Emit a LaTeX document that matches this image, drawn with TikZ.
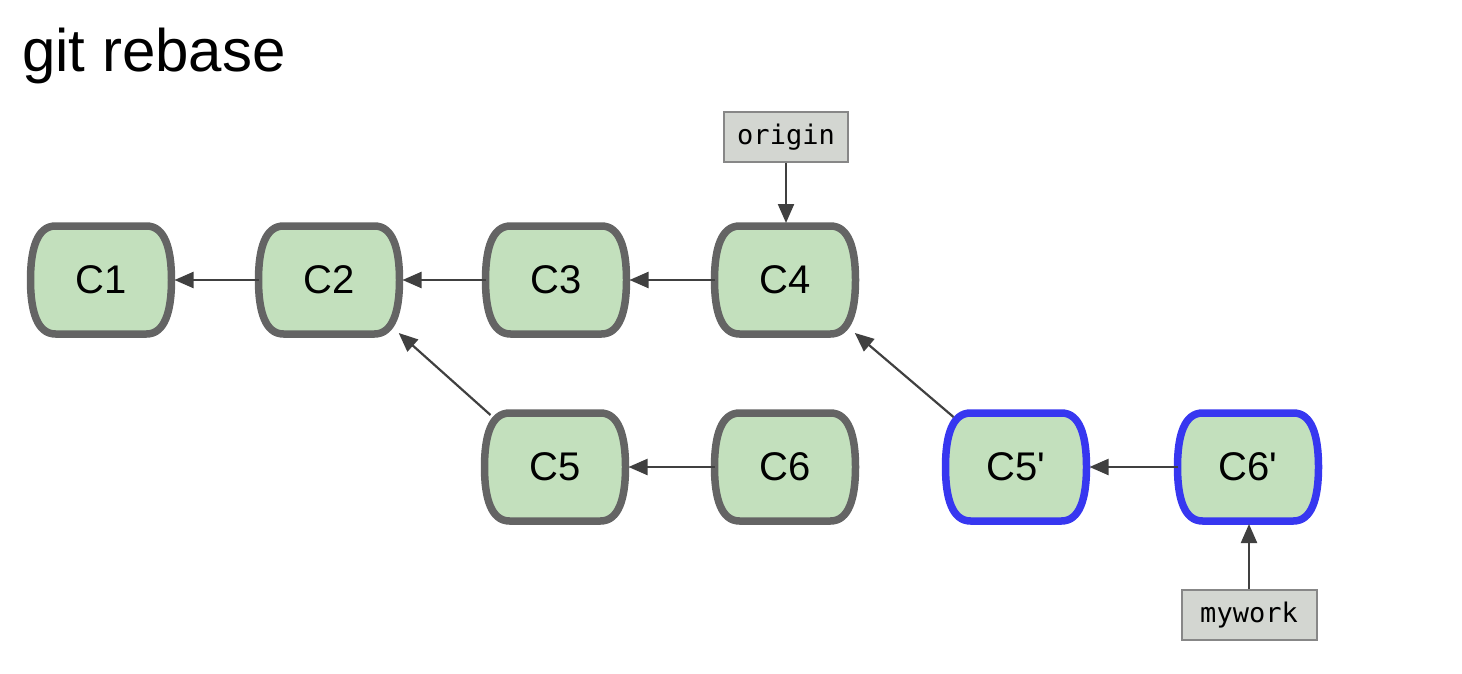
\documentclass[tikz,border=0pt]{standalone}
\usepackage{fontspec}
\setmainfont{Liberation Sans}
\newfontfamily\monofont{DejaVu Sans Mono}
\usetikzlibrary{arrows.meta}
\pgfdeclarelayer{background}
\pgfsetlayers{background,main}
\definecolor{commitfill}{RGB}{195,224,189}
\definecolor{commitgray}{RGB}{100,100,100}
\definecolor{commitblue}{RGB}{55,55,240}
\definecolor{labelfill}{RGB}{211,214,209}
\definecolor{labelline}{RGB}{135,135,135}
\definecolor{edgecol}{RGB}{64,64,64}
\tikzset{
  commit/.style={draw=none, minimum width=141pt, minimum height=108pt, inner sep=0pt, outer sep=0pt,
    font=\fontsize{40}{42}\selectfont},
  commitline/.style={line width=7.5pt, fill=commitfill, draw=#1},
  reflabel/.style={draw=labelline, fill=labelfill, line width=2pt, minimum width=124pt, minimum height=50pt,
    inner sep=0pt, outer sep=1pt, font=\monofont\fontsize{27}{29}\selectfont},
  edge/.style={draw=edgecol, line width=2.2pt, -{Triangle[length=19pt,width=16pt]}, shorten >=3pt},
}
\newcommand\commitshape[2]{%
  \draw[commitline=#2]
    ([xshift=25pt]#1.north west) -- ([xshift=-25pt]#1.north east)
    .. controls ([xshift=-7pt]#1.north east) and ([yshift=-22pt]#1.north east) .. (#1.east)
    .. controls ([yshift=22pt]#1.south east) and ([xshift=-7pt]#1.south east) .. ([xshift=-25pt]#1.south east)
    -- ([xshift=25pt]#1.south west)
    .. controls ([xshift=7pt]#1.south west) and ([yshift=22pt]#1.south west) .. (#1.west)
    .. controls ([yshift=-22pt]#1.north west) and ([xshift=7pt]#1.north west) .. cycle;}
\begin{document}
\begin{tikzpicture}[x=1pt,y=-1pt]
\useasboundingbox (0,0) rectangle (1462,674);
\node[anchor=base west, inner sep=0pt, font=\fontsize{60}{62}\selectfont] (title) at (22,72) {git rebase};

\node[commit] (c1) at (101,280) {C1};
\node[commit] (c2) at (329,280) {C2};
\node[commit] (c3) at (556,280) {C3};
\node[commit] (c4) at (785,280) {C4};
\node[commit] (c5) at (555,467) {C5};
\node[commit] (c6) at (785,467) {C6};
\node[commit] (c5p) at (1016,467) {C5\textquotesingle};
\node[commit] (c6p) at (1248,467) {C6\textquotesingle};

\begin{pgfonlayer}{background}
\commitshape{c1}{commitgray}
\commitshape{c2}{commitgray}
\commitshape{c3}{commitgray}
\commitshape{c4}{commitgray}
\commitshape{c5}{commitgray}
\commitshape{c6}{commitgray}
\commitshape{c5p}{commitblue}
\commitshape{c6p}{commitblue}
\end{pgfonlayer}

\node[reflabel] (origin) at (786,137) {origin};
\node[reflabel, minimum width=135pt] (mywork) at (1249,615) {mywork};

\draw[edge] (c2) -- (c1);
\draw[edge] (c3) -- (c2);
\draw[edge] (c4) -- (c3);
\draw[edge] (c6) -- (c5);
\draw[edge] (c6p) -- (c5p);
\draw[edge] ([shift={(6pt,-2pt)}]c5.north west) -- ([shift={(-3pt,3pt)}]c2.south east);
\draw[edge] ([shift={(8pt,-4pt)}]c5p.north west) -- ([shift={(-3pt,3pt)}]c4.south east);
\draw[edge] (origin.south) -- (origin.south |- c4.north);
\draw[edge] (mywork.north) -- (mywork.north |- c6p.south);
\end{tikzpicture}
\end{document}
